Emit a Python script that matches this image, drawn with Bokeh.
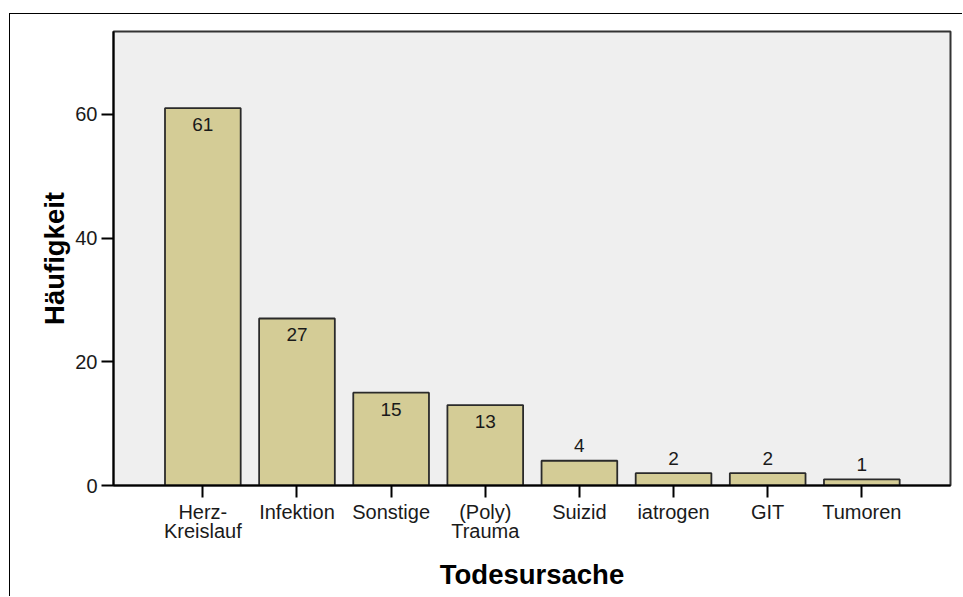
from bokeh.plotting import figure
from bokeh.models import Range1d, FixedTicker, ColumnDataSource
from bokeh.embed import file_html
from bokeh.resources import INLINE
from bokeh.core.properties import value

# ---- data ----
categories = ["Herz-\nKreislauf", "Infektion", "Sonstige", "(Poly)\nTrauma",
              "Suizid", "iatrogen", "GIT", "Tumoren"]
counts = [61, 27, 15, 13, 4, 2, 2, 1]
y_ticks = [0, 20, 40, 60]

xs = list(range(1, len(categories) + 1))
FONT = "Liberation Sans"

p = figure(width=953, height=583, output_backend="svg", toolbar_location=None,
           x_range=Range1d(0.051, 8.942), y_range=Range1d(0, 73.4),
           min_border_left=103, min_border_right=13, min_border_top=17, min_border_bottom=112)
# outer frame of the whole chart (top and left edges visible in the window)
p.styles = {"border-top": "1px solid black", "border-left": "1px solid black",
            "margin-left": "9px", "margin-top": "13px"}

p.background_fill_color = "#efefef"
p.border_fill_color = "white"
p.outline_line_color = "#333333"
p.outline_line_width = 2
p.grid.visible = False

src = ColumnDataSource(dict(x=xs, top=counts))
p.vbar(x="x", top="top", width=0.804, bottom=0, source=src,
       fill_color="#d4cc96", line_color="#2a2a2a", line_width=1.8)

inside = ColumnDataSource(dict(x=[x for x, c in zip(xs, counts) if c > 10],
                               y=[c for c in counts if c > 10],
                               t=[str(c) for c in counts if c > 10]))
above = ColumnDataSource(dict(x=[x for x, c in zip(xs, counts) if c <= 10],
                              y=[c for c in counts if c <= 10],
                              t=[str(c) for c in counts if c <= 10]))
p.text(x="x", y="y", text="t", source=inside, text_align="center", text_baseline="top",
       y_offset=10, text_font=value(FONT), text_font_size="19px", text_color="#1a1a1a")
p.text(x="x", y="y", text="t", source=above, text_align="center", text_baseline="alphabetic",
       y_offset=-15, text_font=value(FONT), text_font_size="19px", text_color="#1a1a1a")

# axes
p.xaxis.ticker = FixedTicker(ticks=xs)
p.xaxis.major_label_overrides = {x: c for x, c in zip(xs, categories)}
p.yaxis.ticker = FixedTicker(ticks=y_ticks)
for ax in (p.xaxis, p.yaxis):
    ax.axis_line_color = "black"
    ax.axis_line_width = 2
    ax.major_tick_line_color = "black"
    ax.major_tick_line_width = 2
    ax.major_tick_out = 12
    ax.major_tick_in = 0
    ax.minor_tick_line_color = None
    ax.major_label_text_font = FONT
    ax.major_label_text_font_size = "20px"
    ax.major_label_text_color = "#1a1a1a"
    ax.axis_label_text_font = FONT
    ax.axis_label_text_font_style = "bold"
    ax.axis_label_text_font_size = "27.5px"
    ax.axis_label_text_color = "black"
p.xaxis.major_label_text_line_height = 0.9
p.xaxis.major_label_standoff = 3
p.yaxis.major_label_standoff = 4
p.xaxis.axis_label = "Todesursache"
p.yaxis.axis_label = "Häufigkeit"
p.xaxis.axis_label_standoff = 14
p.yaxis.axis_label_standoff = 2

open("out.html", "w").write(file_html(p, INLINE))
